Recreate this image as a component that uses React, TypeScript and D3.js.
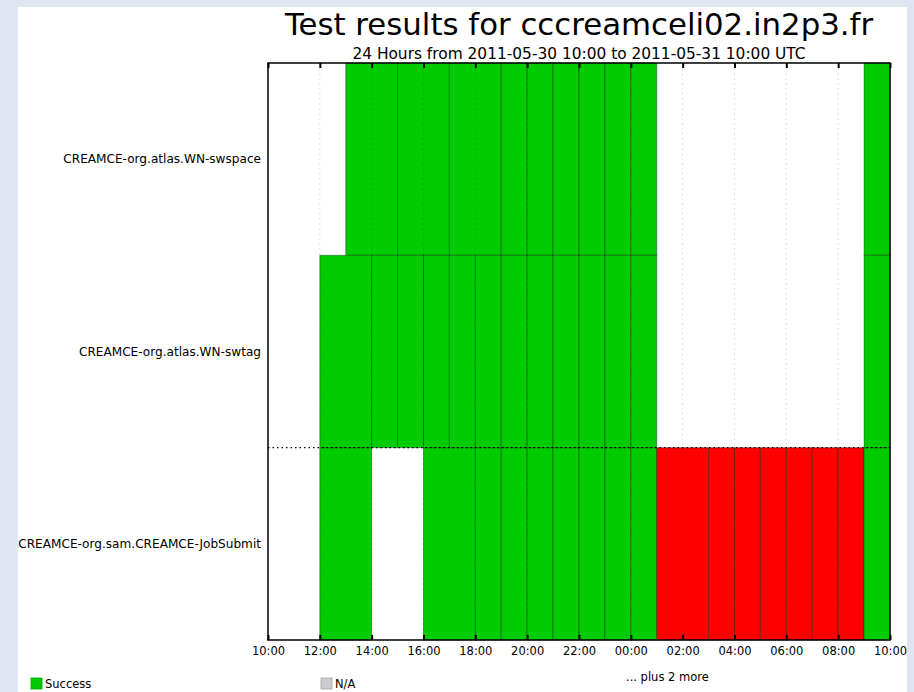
import React, { useEffect, useRef } from 'react';
import * as d3 from 'd3';

// tests shown on the y axis (top to bottom) and the group each belongs to
const tests = [
  'CREAMCE-org.atlas.WN-swspace',
  'CREAMCE-org.atlas.WN-swtag',
  'CREAMCE-org.sam.CREAMCE-JobSubmit',
];
const testGroups = ['atlas', 'atlas', 'sam'];

// result cells: [start hour, end hour, status]; hours counted from 2011-05-30 00:00 UTC
const swspaceCells: [number, number, string][] = [
  [13, 15, 'Success'], [15, 17, 'Success'], [17, 19, 'Success'], [19, 20, 'Success'],
  [20, 21, 'Success'], [21, 22, 'Success'], [22, 23, 'Success'], [23, 24, 'Success'],
  [24, 25, 'Success'], [33, 34, 'Success'],
];
const swtagCells: [number, number, string][] = [
  [12, 14, 'Success'], [14, 15, 'Success'], [15, 16, 'Success'], [16, 17, 'Success'],
  [17, 18, 'Success'], [18, 19, 'Success'], [19, 20, 'Success'], [20, 21, 'Success'],
  [21, 22, 'Success'], [22, 23, 'Success'], [23, 24, 'Success'], [24, 25, 'Success'],
  [33, 34, 'Success'],
];
const jobSubmitCells: [number, number, string][] = [
  [12, 14, 'Success'], [16, 18, 'Success'], [18, 19, 'Success'], [19, 20, 'Success'],
  [20, 21, 'Success'], [21, 22, 'Success'], [22, 23, 'Success'], [23, 24, 'Success'],
  [24, 25, 'Success'], [25, 27, 'Critical'], [27, 28, 'Critical'], [28, 29, 'Critical'],
  [29, 30, 'Critical'], [30, 31, 'Critical'], [31, 32, 'Critical'], [32, 33, 'Critical'],
  [33, 34, 'Success'],
];
const cellsByTest = [swspaceCells, swtagCells, jobSubmitCells];

const statusNames = ['Success', 'Critical', 'N/A'];
const statusColors = ['#00cc00', '#ff0000', '#cccccc'];
const legendItems = ['Success', 'N/A'];
const legendExtra = '... plus 2 more';

const title = 'Test results for cccreamceli02.in2p3.fr';
const subtitle = '24 Hours from 2011-05-30 10:00 to 2011-05-31 10:00 UTC';
const dayStart = new Date(Date.UTC(2011, 4, 30, 0, 0));
const windowStart = new Date(Date.UTC(2011, 4, 30, 10, 0));
const windowEnd = new Date(Date.UTC(2011, 4, 31, 10, 0));

const width = 914;
const height = 692;
const margin = { top: 63, right: 24, bottom: 52, left: 268 };
const font = '"DejaVu Sans", Verdana, sans-serif';

const App = () => {
  const svgRef = useRef<SVGSVGElement>(null);

  useEffect(() => {
    const svg = d3.select(svgRef.current);
    svg.selectAll('*').remove();

    const x = d3.scaleUtc()
      .domain([windowStart, windowEnd])
      .range([margin.left, width - margin.right]);
    const y = d3.scaleBand()
      .domain(tests)
      .range([margin.top, height - margin.bottom])
      .padding(0);
    const color = d3.scaleOrdinal<string, string>().domain(statusNames).range(statusColors);
    const toDate = (h: number) => d3.utcHour.offset(dayStart, h);

    // page background + white panel
    svg.append('rect').attr('width', width).attr('height', height).attr('fill', '#dfe6f2');
    svg.append('rect').attr('x', 18).attr('y', 7).attr('width', 889).attr('height', height)
      .attr('fill', '#ffffff');

    // titles
    const cx = (margin.left + width - margin.right) / 2;
    svg.append('text').attr('x', cx).attr('y', 35).attr('text-anchor', 'middle')
      .attr('font-family', font).attr('font-size', 30.8).attr('fill', '#000').text(title);
    svg.append('text').attr('x', cx).attr('y', 59).attr('text-anchor', 'middle')
      .attr('font-family', font).attr('font-size', 15.4).attr('fill', '#000').text(subtitle);

    /* cells -------------------------------*/
    const rows = svg.append('g');
    tests.forEach((t, i) => {
      rows.selectAll(`.cell-${i}`)
        .data(cellsByTest[i])
        .join('rect')
        .attr('class', `cell-${i}`)
        .attr('x', d => x(toDate(d[0])))
        .attr('y', y(t)!)
        .attr('width', d => x(toDate(d[1])) - x(toDate(d[0])))
        .attr('height', y.bandwidth())
        .attr('fill', d => color(d[2]))
        .attr('stroke', '#000')
        .attr('stroke-opacity', 0.35)
        .attr('stroke-width', 1);
    });

    // vertical grid at the ticks
    const ticks = x.ticks(d3.utcHour.every(2)!);
    svg.append('g').selectAll('line')
      .data(ticks)
      .join('line')
      .attr('x1', d => x(d)).attr('x2', d => x(d))
      .attr('y1', margin.top).attr('y2', height - margin.bottom)
      .attr('stroke', '#000').attr('stroke-opacity', 0.12)
      .attr('stroke-dasharray', '2,3');

    // dotted separator between test groups
    const seps = tests.filter((t, i) => i > 0 && testGroups[i] !== testGroups[i - 1]);
    svg.append('g').selectAll('line')
      .data(seps)
      .join('line')
      .attr('x1', margin.left).attr('x2', width - margin.right)
      .attr('y1', d => y(d)!).attr('y2', d => y(d)!)
      .attr('stroke', '#000').attr('stroke-width', 1.2)
      .attr('stroke-dasharray', '1.5,3');

    // frame
    svg.append('rect')
      .attr('x', margin.left).attr('y', margin.top)
      .attr('width', width - margin.right - margin.left)
      .attr('height', height - margin.bottom - margin.top)
      .attr('fill', 'none').attr('stroke', '#000').attr('stroke-width', 1.5);

    /* axes -------------------------------*/
    const xAxis = d3.axisBottom(x)
      .ticks(d3.utcHour.every(2)!)
      .tickFormat(d3.utcFormat('%H:%M') as any)
      .tickSizeInner(-5)
      .tickSizeOuter(0)
      .tickPadding(7);
    const gx = svg.append('g')
      .attr('transform', `translate(0, ${height - margin.bottom})`)
      .call(xAxis);
    gx.select('.domain').remove();
    gx.selectAll('line').attr('stroke-width', 2);
    gx.selectAll('text').attr('font-family', font).attr('font-size', 11.5).attr('fill', '#000');

    const xTop = d3.axisTop(x)
      .ticks(d3.utcHour.every(2)!)
      .tickFormat(() => '')
      .tickSizeInner(-5)
      .tickSizeOuter(0);
    const gt = svg.append('g')
      .attr('transform', `translate(0, ${margin.top})`)
      .call(xTop);
    gt.select('.domain').remove();
    gt.selectAll('line').attr('stroke-width', 2);

    // test names
    svg.append('g').selectAll('text')
      .data(tests)
      .join('text')
      .attr('x', margin.left - 7)
      .attr('y', d => y(d)! + y.bandwidth() / 2)
      .attr('dy', '0.35em')
      .attr('text-anchor', 'end')
      .attr('font-family', font).attr('font-size', 12.1).attr('fill', '#000')
      .text(d => d);

    /* legend -------------------------------*/
    const legendX = d3.scalePoint().domain(legendItems).range([31, 321]);
    const lg = svg.append('g').selectAll('g')
      .data(legendItems)
      .join('g')
      .attr('transform', d => `translate(${legendX(d)}, 678)`);
    lg.append('rect').attr('width', 11).attr('height', 11)
      .attr('fill', d => color(d))
      .attr('stroke', d => d3.color(color(d))!.darker(0.6).toString())
      .attr('stroke-width', 0.8);
    lg.append('text').attr('x', 14).attr('y', 9.5)
      .attr('font-family', font).attr('font-size', 11.5).attr('fill', '#000')
      .text(d => d);
    svg.append('text').attr('x', 626).attr('y', 681)
      .attr('font-family', font).attr('font-size', 11.5).attr('fill', '#000')
      .text(legendExtra);
  }, []);

  return (
    <svg
      ref={svgRef}
      width={width}
      height={height}
      style={{ position: 'absolute', left: 0, top: 0 }}
    />
  );
};

export default App;
